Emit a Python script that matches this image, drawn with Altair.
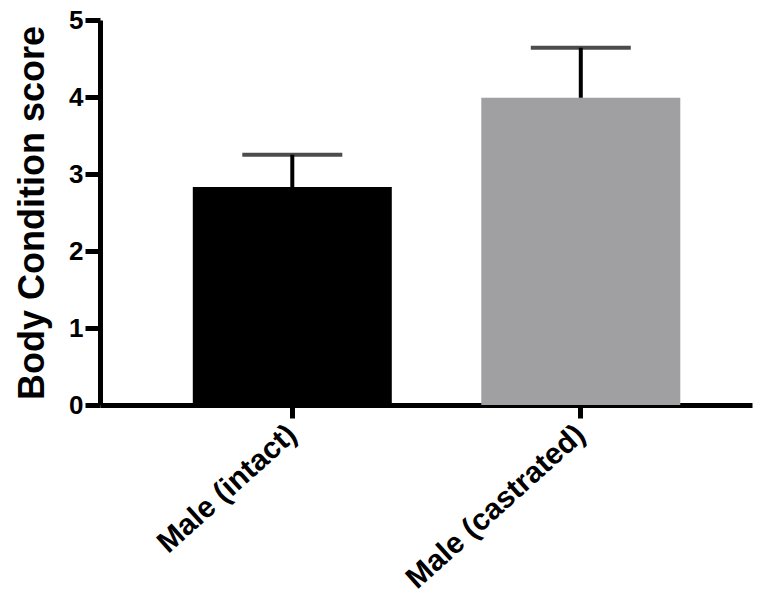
import altair as alt
import pandas as pd

categories = ["Male (intact)", "Male (castrated)"]
means = [2.83, 3.99]
errors = [0.42, 0.65]
bar_colors = ["#000000", "#a0a0a3"]

df = pd.DataFrame({
    "group": categories,
    "mean": means,
    "upper": [m + e for m, e in zip(means, errors)],
    "color": bar_colors,
})

FONT = "Liberation Sans"

x = alt.X(
    "group:N",
    sort=categories,
    scale=alt.Scale(paddingInner=0.311, paddingOuter=0.2855, align=0.564),
    axis=alt.Axis(
        title=None,
        labelAngle=-42,
        labelAlign="right",
        labelBaseline="middle",
        labelFont=FONT,
        labelFontSize=30,
        labelFontWeight="bold",
        labelColor="black",
        labelPadding=12,
        labelLimit=600,
        tickSize=13,
        tickWidth=5,
        tickColor="black",
        domainColor="black",
        domainWidth=5,
        grid=False,
    ),
)

y_scale = alt.Scale(domain=[0, 5], nice=False, zero=True)
y_axis = alt.Axis(
    title="Body Condition score",
    titleFont=FONT,
    titleFontSize=36,
    titleFontWeight="bold",
    titleColor="black",
    titlePadding=17,
    values=[0, 1, 2, 3, 4, 5],
    format="d",
    labelFont=FONT,
    labelFontSize=26,
    labelFontWeight="bold",
    labelColor="black",
    labelPadding=2,
    tickSize=15,
    tickWidth=5,
    tickColor="black",
    domainColor="black",
    domainWidth=5,
    grid=False,
)

bars = alt.Chart(df).mark_bar(size=199).encode(
    x=x,
    y=alt.Y("mean:Q", scale=y_scale, axis=y_axis),
    color=alt.Color("color:N", scale=None),
)

stems = alt.Chart(df).mark_rule(strokeWidth=4, color="black").encode(
    x=alt.X("group:N", sort=categories),
    y=alt.Y("mean:Q"),
    y2="upper:Q",
)

caps = alt.Chart(df).mark_tick(size=100, thickness=4, color="black", orient="horizontal").encode(
    x=alt.X("group:N", sort=categories),
    y=alt.Y("upper:Q"),
)

chart = (
    alt.layer(bars, stems, caps)
    .properties(
        width=652,
        height=385,
        padding={"left": 100, "top": 20, "right": 10, "bottom": 191},
        autosize="none",
        background="white",
    )
    .configure_view(stroke=None)
)

chart.save("out.html", embed_options={"renderer": "svg", "actions": False})
